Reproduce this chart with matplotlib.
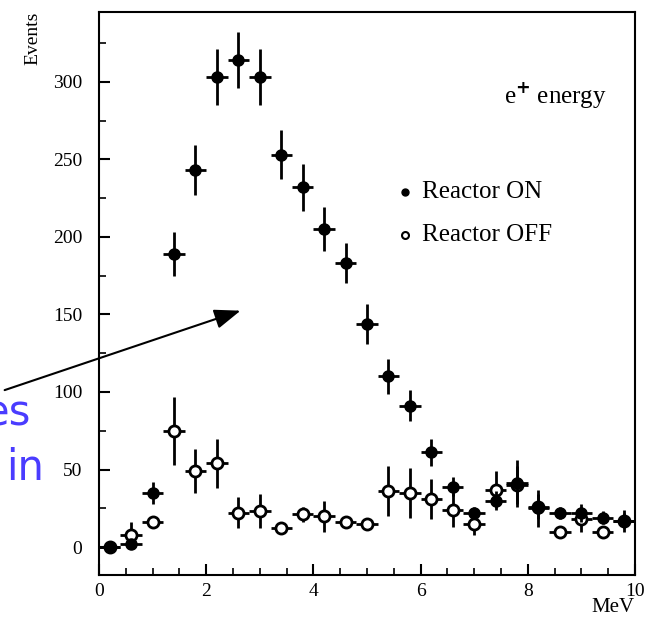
import numpy as np
import matplotlib.pyplot as plt
from matplotlib.ticker import MultipleLocator

# bin centres (MeV)
energy = [0.2, 0.6, 1.0, 1.4, 1.8, 2.2, 2.6, 3.0, 3.4, 3.8, 4.2, 4.6, 5.0,
          5.4, 5.8, 6.2, 6.6, 7.0, 7.4, 7.8, 8.2, 8.6, 9.0, 9.4, 9.8]
# reactor ON
on_events = [0, 2, 35, 189, 243, 303, 314, 303, 253, 232, 205, 183, 144,
             110, 91, 61, 39, 22, 30, 41, 25, 22, 22, 19, 17]
on_err = [2, 3, 7, 14, 16, 18, 18, 18, 16, 15, 14, 13, 13,
          11, 10, 9, 6, 4, 6, 15, 12, 4, 6, 4, 7]
# reactor OFF
off_events = [0, 8, 16, 75, 49, 54, 22, 23, 12, 21, 20, 16, 15,
              36, 35, 31, 24, 15, 37, 40, 26, 10, 18, 10, 17]
off_err = [2, 8, 4, 22, 14, 16, 10, 11, 3, 5, 10, 3, 3,
           16, 16, 13, 11, 7, 12, 12, 8, 3, 8, 3, 5]
bin_half = 0.2

plt.rcParams['font.family'] = ['Liberation Serif', 'DejaVu Serif']

fig = plt.figure(figsize=(6.48, 6.18), dpi=100)
ax = fig.add_axes([0.1528, 0.0696, 0.827, 0.911])

ax.errorbar(energy, off_events, yerr=off_err, xerr=bin_half, fmt='o',
            mfc='white', mec='black', mew=2, ms=8, color='black',
            elinewidth=2, capsize=0, label='Reactor OFF', zorder=2)
ax.errorbar(energy, on_events, yerr=on_err, xerr=bin_half, fmt='o',
            mfc='black', mec='black', ms=8, color='black',
            elinewidth=2, capsize=0, label='Reactor ON', zorder=3)

ax.set_xlim(0, 10)
ax.set_ylim(-18, 345)
ax.set_xticks([0, 2, 4, 6, 8, 10])
ax.set_yticks([0, 50, 100, 150, 200, 250, 300])
ax.xaxis.set_minor_locator(MultipleLocator(0.5))
ax.yaxis.set_minor_locator(MultipleLocator(25))
ax.tick_params(which='major', direction='in', length=8, width=1.5,
               labelsize=14, pad=6)
ax.tick_params(which='minor', direction='in', length=5, width=1.2)
ax.tick_params(axis='y', pad=12)
for s in ax.spines.values():
    s.set_linewidth(1.5)

fig.text(33 / 648, 1 - 38 / 618, 'Events', rotation=90, fontsize=14,
         ha='center', va='center')
fig.text(613 / 648, 1 - 607 / 618, 'MeV', fontsize=15, ha='center',
         va='center')

ax.text(0.948, 0.853, r'e$^{\mathbf{+}}$ energy', transform=ax.transAxes,
        fontsize=18, ha='right', va='center')

# legend drawn by hand
ax.plot([5.71], [229], 'o', color='black', ms=5)
ax.text(6.02, 229, 'Reactor ON', fontsize=18, va='center')
ax.plot([5.71], [201], 'o', mfc='white', mec='black', mew=1.5, ms=5)
ax.text(6.02, 201, 'Reactor OFF', fontsize=18, va='center')

# slide overlay: arrow and cut-off blue text
ax.annotate('', xy=(2.69, 153), xycoords='data',
            xytext=(2 / 648, 1 - 391 / 618), textcoords='figure fraction',
            arrowprops=dict(arrowstyle='-|>,head_length=1.6,head_width=0.6',
                            color='black', lw=1.5),
            annotation_clip=False)
fig.text(-16 / 648, 1 - 413 / 618, 'es', fontsize=30, color='#4a3cff',
         family='DejaVu Sans', ha='left', va='center')
fig.text(6 / 648, 1 - 468 / 618, 'in', fontsize=30, color='#4a3cff',
         family='DejaVu Sans', ha='left', va='center')

fig.savefig('out.png', dpi=100)
